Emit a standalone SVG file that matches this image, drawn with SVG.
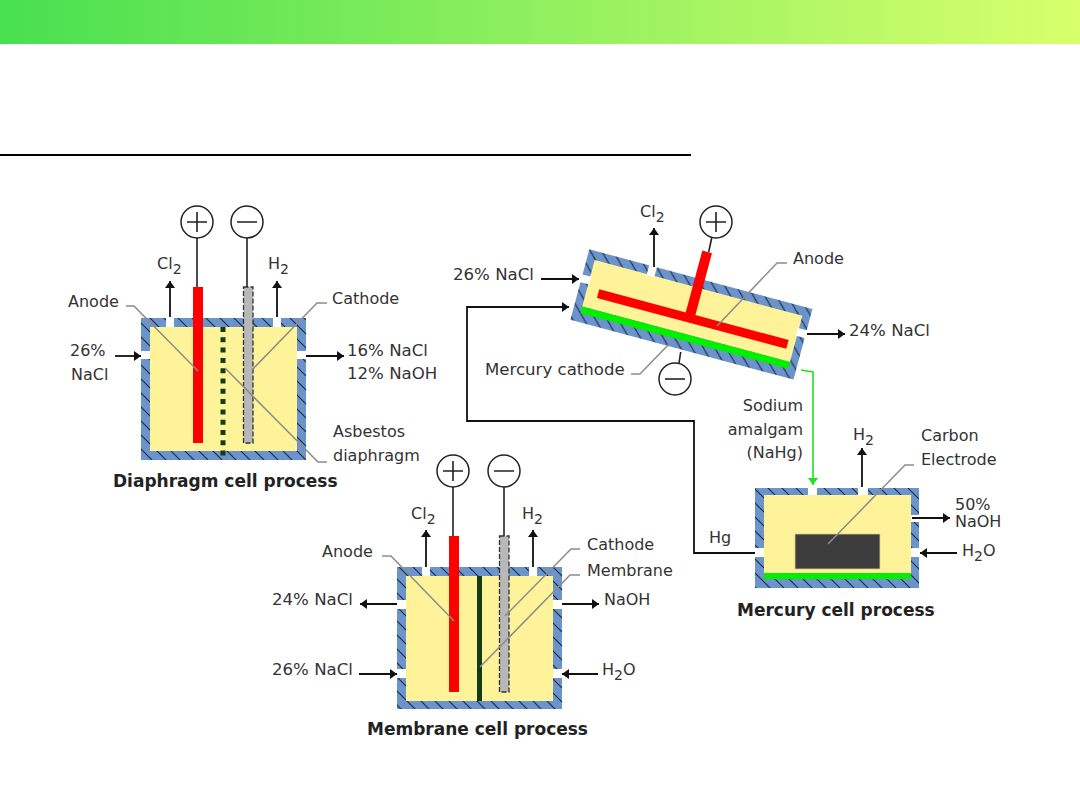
<svg xmlns="http://www.w3.org/2000/svg" width="1080" height="810" viewBox="0 0 1080 810">
<style>
text{font-family:"DejaVu Sans","Liberation Sans",sans-serif;font-size:16px;fill:#333}
.title{font-weight:bold;font-size:17px;fill:#222}
.wide{font-size:16.6px}
.sub{font-size:14px}
.wall{fill:url(#hatch)}
.inner{fill:#fff399}
.gap{fill:#fff}
.anode{fill:#f00}
.cathode{fill:#b8b8b8;stroke:#333;stroke-width:1.3;stroke-dasharray:5 2}
.hg{fill:#00f000}
.pole{fill:#fff;stroke:#222;stroke-width:1.5}
.wire{fill:none;stroke:#222;stroke-width:1.6}
.flow{fill:none;stroke:#111;stroke-width:1.8;marker-end:url(#head)}
.green{fill:none;stroke:#22e022;stroke-width:1.6}
.lead{fill:none;stroke:#8c8c8c;stroke-width:1.5}
</style>
<defs>
<linearGradient id="band" x1="0" x2="1" y1="0" y2="0">
<stop offset="0" stop-color="#48e050"/>
<stop offset="1" stop-color="#d8ff6c"/>
</linearGradient>
<pattern id="hatch" width="14" height="14" patternUnits="userSpaceOnUse">
<rect width="14" height="14" fill="#6b93cc"/>
<path d="M-2 -2L16 16M-2 12L2 16M12 -2L16 2" stroke="#1c2a3a" stroke-width="1.1"/>
</pattern>
<marker id="head" markerUnits="userSpaceOnUse" markerWidth="8" markerHeight="10" refX="7" refY="5" orient="auto">
<path d="M0 0L7 5L0 10z" fill="#111"/>
</marker>
<marker id="headGreen" markerUnits="userSpaceOnUse" markerWidth="10" markerHeight="10" refX="7" refY="5" orient="auto">
<path d="M0 0L7 5L0 10z" fill="#22e022"/>
</marker>
</defs>

<rect width="1080" height="810" fill="#fff"/>
<rect id="banner" width="1080" height="44" fill="url(#band)"/>
<rect id="rule" x="0" y="154" width="691" height="2" fill="#000"/>

<!-- Cell bodies -->
<g id="diaphragm-cell">
<rect class="wall" x="141" y="318" width="165" height="142"/>
<rect class="inner" x="150" y="327" width="147" height="124"/>
<rect class="gap" x="166" y="318" width="8" height="9"/>
<rect class="gap" x="273" y="318" width="8" height="9"/>
<rect class="gap" x="141" y="351" width="9" height="8"/>
<rect class="gap" x="297" y="351" width="9" height="8"/>
<path d="M223 327V460" stroke="#143c14" stroke-width="5" stroke-dasharray="5 5.3" fill="none"/>
<rect class="anode" x="193" y="287" width="10" height="156"/>
<rect class="cathode" x="243.5" y="287" width="9.5" height="156"/>
<g><circle class="pole" cx="197" cy="222" r="16"/><path class="wire" d="M187 222H207M197 212V232M197 238V287"/></g>
<g><circle class="pole" cx="247" cy="222" r="16"/><path class="wire" d="M237 222H257M247 238V287"/></g>
</g>

<g id="membrane-cell">
<rect class="wall" x="397" y="567" width="165" height="142"/>
<rect class="inner" x="406" y="576" width="147" height="125"/>
<rect class="gap" x="422" y="567" width="8" height="9"/>
<rect class="gap" x="529" y="567" width="8" height="9"/>
<rect class="gap" x="397" y="600" width="9" height="9"/>
<rect class="gap" x="553" y="600" width="9" height="9"/>
<rect class="gap" x="397" y="669" width="9" height="9"/>
<rect class="gap" x="553" y="669" width="9" height="9"/>
<rect x="477" y="576" width="5" height="125" fill="#143c14"/>
<rect class="anode" x="449" y="536" width="10" height="156"/>
<rect class="cathode" x="499.5" y="536" width="9.5" height="156"/>
<g><circle class="pole" cx="453" cy="471" r="16"/><path class="wire" d="M443 471H463M453 461V481M453 487V536"/></g>
<g><circle class="pole" cx="504" cy="471" r="16"/><path class="wire" d="M494 471H514M504 487V536"/></g>
</g>

<g id="mercury-cell-tilted">
<path class="wire" d="M711.7 238L708.7 252M680.7 352L679 363"/>
<g transform="translate(589.3 249.3) rotate(15)">
<rect class="wall" x="0" y="0" width="231" height="73"/>
<rect class="inner" x="8" y="9" width="215" height="48"/>
<rect class="hg" x="8" y="57" width="215" height="7"/>
<rect class="gap" x="62" y="-1" width="8" height="11"/>
<rect class="gap" x="-1" y="26" width="10" height="8"/>
<rect class="gap" x="222" y="22" width="10" height="8"/>
<rect class="anode" x="20" y="36" width="196" height="9"/>
<rect class="anode" x="109.5" y="-28" width="10" height="66"/>
</g>
<g><circle class="pole" cx="716" cy="222" r="16"/><path class="wire" d="M706 222H726M716 212V232"/></g>
<g><circle class="pole" cx="675" cy="379" r="16"/><path class="wire" d="M665 379H685"/></g>
</g>

<g id="mercury-cell">
<rect class="wall" x="755" y="488" width="164" height="100"/>
<rect class="inner" x="764" y="495" width="147" height="78"/>
<rect class="hg" x="764" y="573" width="147" height="6"/>
<rect class="gap" x="808" y="488" width="9" height="7"/>
<rect class="gap" x="858" y="488" width="10" height="7"/>
<rect class="gap" x="911" y="515" width="9" height="7"/>
<rect class="gap" x="911" y="548" width="9" height="9"/>
<rect class="gap" x="755" y="548" width="9" height="9"/>
<rect x="795" y="534" width="85" height="35" fill="#3c3c3c" stroke="#d8cf88" stroke-width="0.8"/>
</g>

<!-- Process flows and label leaders -->
<g id="connectors">
<path class="flow" d="M170 317V281"/>
<path class="flow" d="M277 317V281"/>
<path class="flow" d="M115 356H141"/>
<path class="flow" d="M306 356H344"/>
<path class="lead" d="M126 306H134L198 371"/>
<path class="lead" d="M327 303H317L252 370"/>
<path class="lead" d="M225 368L318 462H327"/>

<path class="flow" d="M426 567V530"/>
<path class="flow" d="M533 567V530"/>
<path class="flow" d="M397 604H360"/>
<path class="flow" d="M359 674H397"/>
<path class="flow" d="M562 604H599"/>
<path class="flow" d="M598 674H562"/>
<path class="lead" d="M382 556H391L454 621"/>
<path class="lead" d="M580 549H571L505 616"/>
<path class="lead" d="M580 575H570L480 667"/>

<path class="flow" d="M654 267V228"/>
<path class="flow" d="M541 279H579"/>
<path class="flow" d="M807 334H845"/>
<path class="lead" d="M787 263H777L717 326"/>
<path class="lead" d="M631 374H640L670 343"/>
<path class="flow" d="M755 553H694V421H467V307H569"/>
<path class="green" d="M801 370L813 372V485" style="marker-end:url(#headGreen)"/>

<path class="flow" d="M862 487V448"/>
<path class="flow" d="M912 518H950"/>
<path class="flow" d="M957 553H920"/>
<path class="lead" d="M914 465H905L828 544"/>
</g>

<!-- Labels -->
<g id="labels-diaphragm">
<text x="157" y="269">Cl<tspan class="sub" dy="5">2</tspan></text>
<text x="268" y="269">H<tspan class="sub" dy="5">2</tspan></text>
<text x="68" y="307">Anode</text>
<text x="332" y="304">Cathode</text>
<text x="70" y="356">26%</text>
<text x="71" y="380">NaCl</text>
<text class="wide" x="347" y="356">16% NaCl</text>
<text class="wide" x="347" y="379">12% NaOH</text>
<text x="333" y="437">Asbestos</text>
<text x="333" y="461">diaphragm</text>
<text class="title" x="113" y="487">Diaphragm cell process</text>
</g>
<g id="labels-membrane">
<text x="411" y="519">Cl<tspan class="sub" dy="5">2</tspan></text>
<text x="522" y="519">H<tspan class="sub" dy="5">2</tspan></text>
<text x="322" y="557">Anode</text>
<text x="587" y="550">Cathode</text>
<text x="587" y="576">Membrane</text>
<text class="wide" x="272" y="605">24% NaCl</text>
<text class="wide" x="272" y="675">26% NaCl</text>
<text x="604" y="605">NaOH</text>
<text x="602" y="675">H<tspan class="sub" dy="5">2</tspan><tspan dy="-5">O</tspan></text>
<text class="title" x="367" y="735">Membrane cell process</text>
</g>
<g id="labels-mercury">
<text x="640" y="217">Cl<tspan class="sub" dy="5">2</tspan></text>
<text class="wide" x="453" y="280">26% NaCl</text>
<text x="793" y="264">Anode</text>
<text class="wide" x="849" y="336">24% NaCl</text>
<text class="wide" x="485" y="375">Mercury cathode</text>
<text x="803" y="411" text-anchor="end">Sodium</text>
<text x="803" y="435" text-anchor="end">amalgam</text>
<text x="803" y="458" text-anchor="end">(NaHg)</text>
<text x="853" y="440">H<tspan class="sub" dy="5">2</tspan></text>
<text x="921" y="441">Carbon</text>
<text x="921" y="465">Electrode</text>
<text x="955" y="510">50%</text>
<text x="955" y="527">NaOH</text>
<text x="962" y="556">H<tspan class="sub" dy="5">2</tspan><tspan dy="-5">O</tspan></text>
<text x="709" y="543">Hg</text>
<text class="title" x="737" y="616">Mercury cell process</text>
</g>
</svg>
